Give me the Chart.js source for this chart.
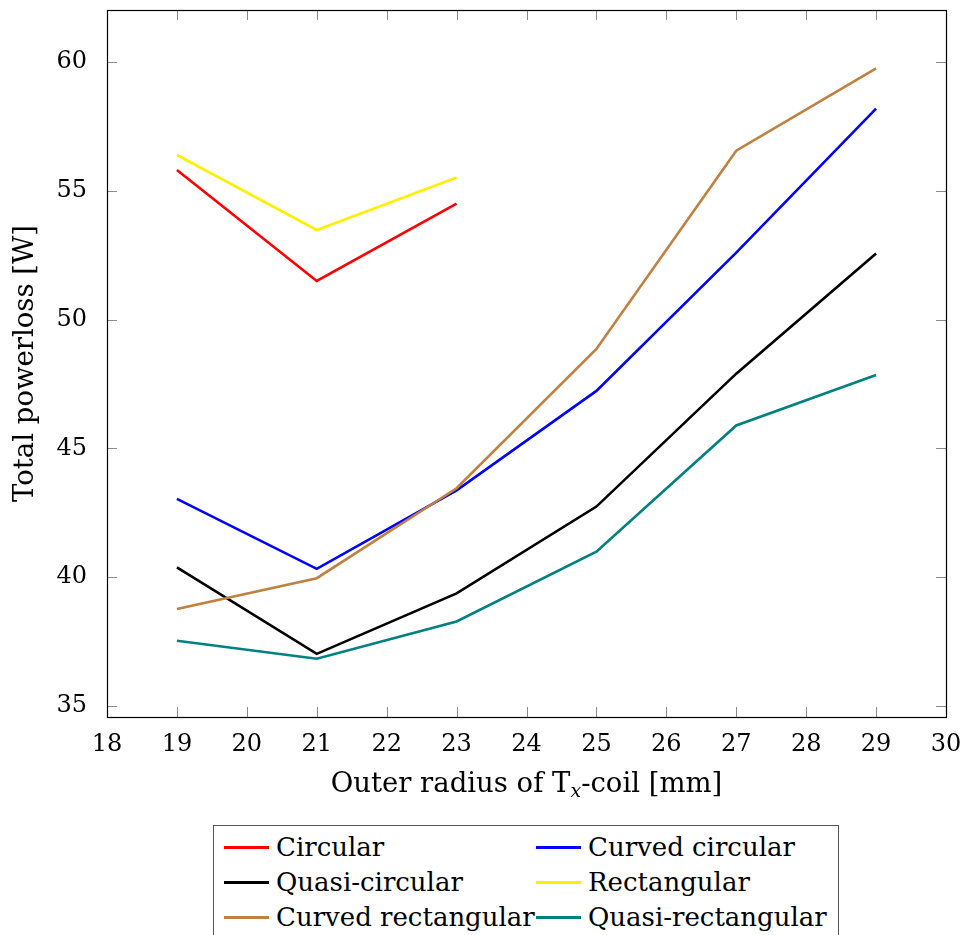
<!DOCTYPE html>
<html>
<head>
<meta charset="utf-8">
<script src="https://cdn.jsdelivr.net/npm/chart.js@4/dist/chart.umd.min.js"></script>
<style>
html,body{margin:0;padding:0;background:#fff;overflow:hidden}
#wrap{position:relative;width:967px;height:935px;overflow:hidden}
#c{position:absolute;left:0;top:0}
#legend{position:absolute;left:213px;top:825px;width:626px;height:140px;border:1px solid #555;box-sizing:border-box;background:#fff;font-family:'DejaVu Serif',serif;font-size:26px;color:#000}
.it{position:absolute;height:30px;line-height:30px;white-space:nowrap}
.it span.ln{position:absolute;top:14px;height:3px;width:45px}
.it span.tx{position:absolute;top:0}
</style>
</head>
<body>
<div id="wrap">
<canvas id="c" width="967" height="935"></canvas>
<div id="legend"></div>
</div>
<script>
// ---- data ----
const radiusShort = [19, 21, 23];
const radiusLong  = [19, 21, 23, 25, 27, 29];
const circular          = [55.81, 51.50, 54.50];
const curvedCircular    = [43.04, 40.32, 43.37, 47.23, 52.60, 58.19];
const quasiCircular     = [40.38, 37.02, 39.37, 42.74, 47.90, 52.57];
const rectangular       = [56.39, 53.48, 55.52];
const curvedRectangular = [38.76, 39.96, 43.45, 48.86, 56.56, 59.75];
const quasiRectangular  = [37.53, 36.83, 38.28, 40.99, 45.89, 47.85];
const seriesNames = ['Circular','Curved circular','Quasi-circular','Rectangular','Curved rectangular','Quasi-rectangular'];
const xTickValues = [18,19,20,21,22,23,24,25,26,27,28,29,30];
const yTickValues = [35,40,45,50,55,60];

const FONT = "'DejaVu Serif', serif";
const colors = ['#ff0000','#0000ff','#000000','rgb(255,240,0)','#bf8040','#008080'];
const seriesX = [radiusShort, radiusLong, radiusLong, radiusShort, radiusLong, radiusLong];
const seriesY = [circular, curvedCircular, quasiCircular, rectangular, curvedRectangular, quasiRectangular];

const datasets = seriesNames.map((name, i) => ({
  label: name,
  data: seriesX[i].map((x, j) => ({x: x, y: seriesY[i][j]})),
  borderColor: colors[i],
  backgroundColor: colors[i],
  borderWidth: 2.6,
  pointRadius: 0,
  fill: false,
  tension: 0,
  order: -i
}));

const framePlugin = {
  id: 'frame',
  afterDatasetsDraw(chart) {
    const {ctx, chartArea: a, scales: {x, y}} = chart;
    ctx.save();
    ctx.strokeStyle = '#8a8a8a';
    ctx.lineWidth = 1;
    const tl = 10;
    ctx.beginPath();
    xTickValues.forEach(v => {
      const px = Math.round(x.getPixelForValue(v)) + 0.5;
      ctx.moveTo(px, a.bottom); ctx.lineTo(px, a.bottom - tl);
      ctx.moveTo(px, a.top); ctx.lineTo(px, a.top + tl);
    });
    yTickValues.forEach(v => {
      const py = Math.round(y.getPixelForValue(v)) + 0.5;
      ctx.moveTo(a.left, py); ctx.lineTo(a.left + tl, py);
      ctx.moveTo(a.right, py); ctx.lineTo(a.right - tl, py);
    });
    ctx.stroke();
    ctx.strokeStyle = '#000';
    ctx.lineWidth = 1.2;
    ctx.strokeRect(Math.round(a.left) + 0.5, Math.round(a.top) + 0.5, Math.round(a.right - a.left), Math.round(a.bottom - a.top));
    ctx.fillStyle = '#000';
    ctx.textBaseline = 'alphabetic';
    const big = "27.5px " + FONT, small = "italic 19px " + FONT;
    const p1 = 'Outer radius of T', p2 = 'x', p3 = '-coil [mm]';
    ctx.font = big; const w1 = ctx.measureText(p1).width, w3 = ctx.measureText(p3).width;
    ctx.font = small; const w2 = ctx.measureText(p2).width;
    const total = w1 + w2 + w3;
    let sx = (a.left + a.right) / 2 - total / 2;
    const by = 792;
    ctx.font = big; ctx.textAlign = 'left'; ctx.fillText(p1, sx, by);
    ctx.font = small; ctx.fillText(p2, sx + w1, by + 5);
    ctx.font = big; ctx.fillText(p3, sx + w1 + w2, by);
    ctx.translate(33, (a.top + a.bottom) / 2);
    ctx.rotate(-Math.PI / 2);
    ctx.font = big; ctx.textAlign = 'center';
    ctx.fillText('Total powerloss [W]', 0, 0);
    ctx.restore();
  }
};

const chart = new Chart(document.getElementById('c'), {
  type: 'line',
  data: {datasets: datasets},
  options: {
    responsive: false,
    animation: false,
    devicePixelRatio: 1,
    layout: {padding: {top: 10, right: 21, left: 0, bottom: 0}},
    plugins: {legend: {display: false}, tooltip: {enabled: false}},
    scales: {
      x: {
        type: 'linear', min: 18, max: 30,
        grid: {display: false}, border: {display: false},
        afterBuildTicks: s => { s.ticks = xTickValues.map(v => ({value: v})); },
        afterFit: s => { s.height = 218; s.paddingLeft = 0; s.paddingRight = 0; },
        ticks: {font: {family: FONT, size: 24}, color: '#000', padding: 5, maxRotation: 0, autoSkip: false}
      },
      y: {
        type: 'linear', min: 34.57, max: 62.02,
        grid: {display: false}, border: {display: false},
        afterBuildTicks: s => { s.ticks = yTickValues.map(v => ({value: v})); },
        afterFit: s => { s.width = 107; s.paddingTop = 0; s.paddingBottom = 0; },
        ticks: {font: {family: FONT, size: 24}, color: '#000', padding: 12}
      }
    }
  },
  plugins: [framePlugin]
});

const leg = document.getElementById('legend');
const colLine = [10, 322], colText = [62, 374], rowTop = [6, 41, 76];
chart.data.datasets.forEach((d, i) => {
  const r = Math.floor(i / 2), c = i % 2;
  const it = document.createElement('div');
  it.className = 'it';
  it.style.top = rowTop[r] + 'px';
  it.style.left = '0px';
  const ln = document.createElement('span');
  ln.className = 'ln'; ln.style.left = colLine[c] + 'px'; ln.style.background = d.borderColor;
  const tx = document.createElement('span');
  tx.className = 'tx'; tx.style.left = colText[c] + 'px'; tx.textContent = d.label;
  it.appendChild(ln); it.appendChild(tx);
  leg.appendChild(it);
});
</script>
</body>
</html>
